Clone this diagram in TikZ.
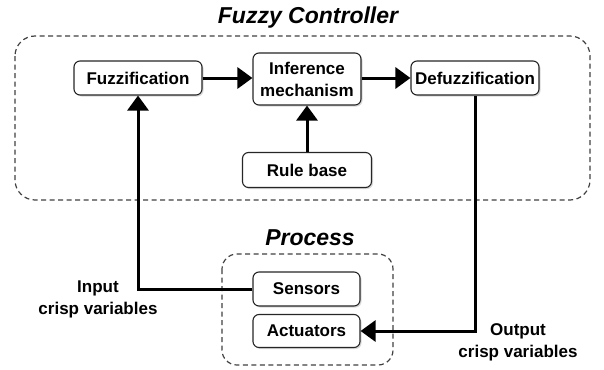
\documentclass[tikz,border=0pt]{standalone}
\usepackage{fontspec}
\setmainfont{Liberation Sans}
\usetikzlibrary{arrows.meta,shadows}
\begin{document}
\begin{tikzpicture}[x=1pt,y=-1pt,
  every node/.style={font=\bfseries\fontsize{17}{22}\selectfont},
  blockbox/.style={draw=black!85, line width=1.1pt, rounded corners=6pt, fill=white,
    inner sep=0pt, align=center,
    drop shadow={opacity=0.3, shadow xshift=1.5pt, shadow yshift=-1.5pt}},
  groupbox/.style={draw=black!75, line width=1.2pt, dash pattern=on 5pt off 3.5pt},
  titletext/.style={font=\bfseries\itshape\fontsize{23}{28}\selectfont},
  flow/.style={line width=3pt, -{Triangle[length=15pt,width=21pt]}},
  flowline/.style={line width=3pt}
]
\useasboundingbox (0,0) rectangle (604,369);
% group frames
\draw[groupbox, rounded corners=20pt] (15,36) rectangle (590,200);
\draw[groupbox, rounded corners=15pt] (222,254) rectangle (393,365);
% titles
\node[titletext, anchor=base] (ttl) at (308,24) {Fuzzy Controller};
\node[titletext, anchor=base] (ptl) at (310,245) {Process};
% blocks
\node[blockbox, minimum width=128pt, minimum height=34pt] (fuzz) at (138,78) {Fuzzification};
\node[blockbox, minimum width=108pt, minimum height=52pt] (inf) at (307,79) {Inference\\mechanism};
\node[blockbox, minimum width=128pt, minimum height=34pt] (defuzz) at (475,78) {Defuzzification};
\node[blockbox, minimum width=129pt, minimum height=35pt] (rule) at (307,170) {Rule base};
\node[blockbox, minimum width=107pt, minimum height=34pt] (sens) at (306.5,289) {Sensors};
\node[blockbox, minimum width=107pt, minimum height=33pt] (act) at (306.5,331) {Actuators};
% labels
\node[align=center] (inlab) at (98,299) {Input\\crisp variables};
\node[align=center] (outlab) at (518,342) {Output\\crisp variables};
% connectors
\draw[flow] (fuzz.east) -- (inf.west |- fuzz.east);
\draw[flow] (inf.east |- defuzz.west) -- (defuzz.west);
\draw[flow] (rule.north) -- (inf.south);
\draw[flow] (sens.west) -| (fuzz.south);
\draw[flow] (defuzz.south) |- (act.east);
\end{tikzpicture}
\end{document}
